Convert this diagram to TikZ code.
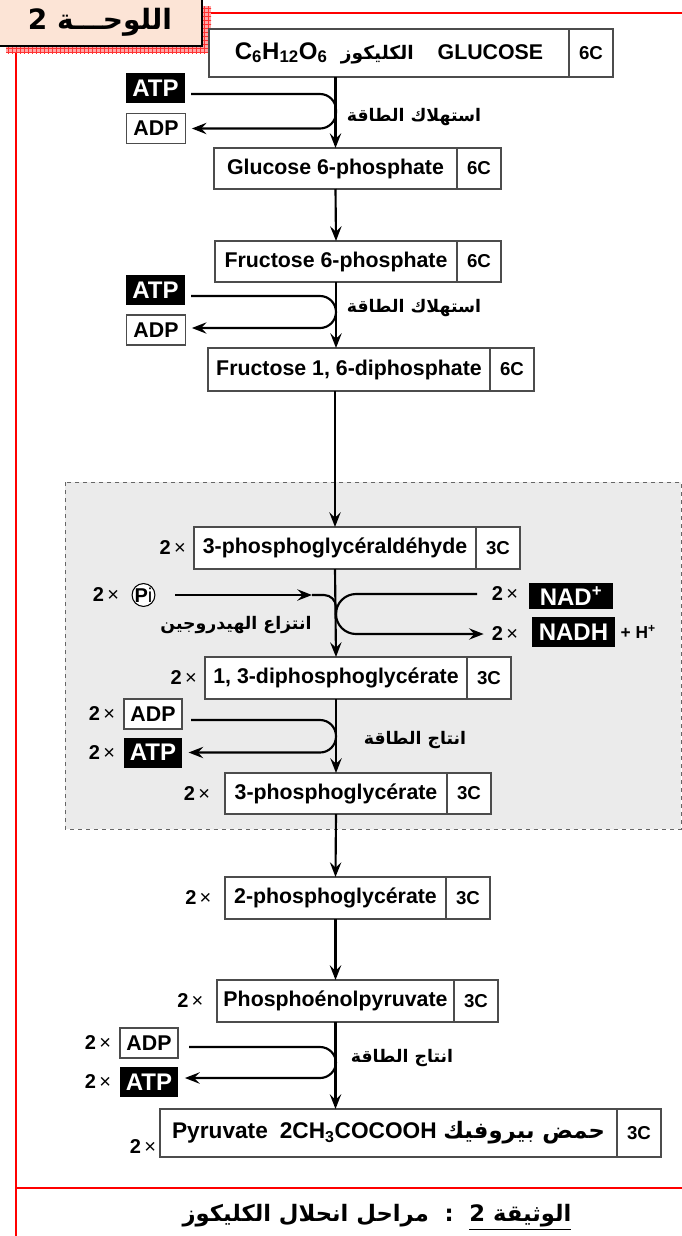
\documentclass[tikz,border=0pt]{standalone}
\usepackage{fontspec}
\setmainfont{Liberation Sans}
\newfontfamily\arabicfont[Script=Arabic]{DejaVu Sans}
\TeXXeTstate=1
\usepackage{xcolor}
\usetikzlibrary{arrows.meta, positioning, patterns}
\definecolor{peach}{HTML}{FCE4D6}
\newcommand{\arab}[1]{{\arabicfont\beginR #1\endR}}

\begin{document}
\begin{tikzpicture}[x=0.75pt, y=-0.75pt]
        % Styles
        \tikzset{
          stage/.style={draw=black!70, line width=0.8pt, fill=white, outer sep=0pt,
            inner sep=2pt, font=\bfseries\fontsize{16}{18}\selectfont},
          carbon/.style={stage, anchor=west, minimum width=33pt,
            font=\bfseries\fontsize{14}{16}\selectfont},
          atpbox/.style={fill=black, text=white, inner sep=0pt, minimum width=44pt,
            minimum height=22.5pt, font=\bfseries\fontsize{18}{20}\selectfont},
          adpbox/.style={draw=black!70, line width=0.8pt, fill=white, inner sep=0pt,
            minimum width=44pt, minimum height=22.5pt, font=\bfseries\fontsize{16}{18}\selectfont},
          mult/.style={inner sep=0pt, font=\bfseries\fontsize{15}{17}\selectfont},
          energy/.style={inner sep=0pt, font=\bfseries\fontsize{13}{15}\selectfont},
          flow/.style={line width=1.6pt, -{Stealth[length=11pt,width=8.5pt,inset=4pt]}},
          sideflow/.style={flow, rounded corners=12pt}
        }
        \useasboundingbox (0,0) rectangle (682,1236);

        % Frame
        \fill[red!35] (6,6) rectangle (211,53);
        \fill[pattern=grid, pattern color=red!80] (6,6) rectangle (211,53);
        \node (title) [draw=black, line width=1pt, fill=peach, minimum width=153pt,
          minimum height=36pt, font=\bfseries\fontsize{21}{24}\selectfont] at (100,22)
          {\arab{اللوحـــة 2}};
        \draw[red, line width=1.5pt] (16,53) -- (16,1236);
        \draw[red, line width=1.5pt] (211,13) -- (682,13);
        \draw[red, line width=1.5pt] (16,1188) -- (682,1188);
        \fill[black!8] (65,482) rectangle (681,829);
        \draw[dashed, black!60, line width=0.6pt] (65,482) rectangle (681,829);
        \coordinate (spine) at (336,0);

        % Nodes
        \node (glu) [stage, minimum width=270pt, minimum height=36pt] at (389,53)
          {{\fontsize{18}{20}\selectfont C\textsubscript{6}H\textsubscript{12}O\textsubscript{6}}\hspace{10pt}{\fontsize{14}{16}\selectfont\arab{الكليكوز}}\hspace{18pt}GLUCOSE};
        \node (gluc) [carbon, minimum height=36pt] at (glu.east) {6C};
        \node (g6p) [stage, minimum width=182.25pt, minimum height=30.75pt] at (335.5,168.5)
          {Glucose 6-phosphate};
        \node (g6pc) [carbon, minimum height=30.75pt] at (g6p.east) {6C};
        \node (f6p) [stage, minimum width=181.5pt, minimum height=30.75pt] at (336,261.5)
          {Fructose 6-phosphate};
        \node (f6pc) [carbon, minimum height=30.75pt] at (f6p.east) {6C};
        \node (f16) [stage, minimum width=211.5pt, minimum height=32.25pt] at (349,369.5)
          {Fructose 1, 6-diphosphate};
        \node (f16c) [carbon, minimum height=32.25pt] at (f16.east) {6C};
        \node (gap) [stage, minimum width=211.5pt, minimum height=31.5pt] at (335,548)
          {3-phosphoglycéraldéhyde};
        \node (gapc) [carbon, minimum height=31.5pt] at (gap.east) {3C};
        \node (dpg) [stage, minimum width=196.5pt, minimum height=31.5pt] at (336,678)
          {1, 3-diphosphoglycérate};
        \node (dpgc) [carbon, minimum height=31.5pt] at (dpg.east) {3C};
        \node (pgt) [stage, minimum width=166.5pt, minimum height=30.75pt] at (336,793.5)
          {3-phosphoglycérate};
        \node (pgtc) [carbon, minimum height=30.75pt] at (pgt.east) {3C};
        \node (pgs) [stage, minimum width=165.75pt, minimum height=31.5pt] at (335.5,898)
          {2-phosphoglycérate};
        \node (pgsc) [carbon, minimum height=31.5pt] at (pgs.east) {3C};
        \node (pep) [stage, minimum width=177.75pt, minimum height=31.5pt] at (335.5,1001)
          {Phosphoénolpyruvate};
        \node (pepc) [carbon, minimum height=31.5pt] at (pep.east) {3C};
        \node (pyr) [stage, minimum width=342.75pt, minimum height=36pt,
          font=\bfseries\fontsize{17}{19}\selectfont] at (388.5,1133)
          {Pyruvate\hspace{9pt}2CH\textsubscript{3}COCOOH\hspace{5pt}\arab{حمض بيروفيك}};
        \node (pyrc) [carbon, minimum height=36pt] at (pyr.east) {3C};

        % Multipliers
        \node (gapn) [mult, left=6pt of gap] {2\,{\mdseries ×}};
        \node (dpgn) [mult, left=6pt of dpg] {2\,{\mdseries ×}};
        \node (pgtn) [mult, left=11pt of pgt] {2\,{\mdseries ×}};
        \node (pgsn) [mult, left=10pt of pgs] {2\,{\mdseries ×}};
        \node (pepn) [mult, left=10pt of pep] {2\,{\mdseries ×}};
        \node (pyrn) [mult] at (143,1147) {2\,{\mdseries ×}};

        % Side molecules
        \node (atpa) [atpbox] at (155.5,88) {ATP};
        \node (adpa) [adpbox] at (156,128.5) {ADP};
        \node (atpb) [atpbox] at (155.5,290) {ATP};
        \node (adpb) [adpbox] at (156,330) {ADP};
        \node (pin) [mult] at (106,595) {2\,{\mdseries ×}};
        \node (pi) [draw, circle, line width=0.8pt, fill=white, minimum size=16.5pt,
          inner sep=0pt, font=\bfseries\fontsize{15}{17}\selectfont] at (143.5,595) {P{\mdseries i}};
        \node (nadn) [mult] at (505,594) {2\,{\mdseries ×}};
        \node (nad) [atpbox, minimum width=63pt, minimum height=19.5pt] at (571,596) {NAD\textsuperscript{+}};
        \node (nadhn) [mult] at (505,634) {2\,{\mdseries ×}};
        \node (nadh) [atpbox, minimum width=62pt] at (573.5,632) {NADH};
        \node (hplus) [mult, anchor=west, font=\bfseries\fontsize{13}{15}\selectfont, right=4pt of nadh]
          {+ H\textsuperscript{+}};
        \node (adpc) [adpbox, minimum width=43.5pt] at (153,714) {ADP};
        \node (atpc) [atpbox] at (153,752.5) {ATP};
        \node (adpcn) [mult] at (102,714) {2\,{\mdseries ×}};
        \node (atpcn) [mult] at (102,752.5) {2\,{\mdseries ×}};
        \node (adpd) [adpbox, minimum width=43.5pt] at (149,1043) {ADP};
        \node (atpd) [atpbox, minimum width=43.5pt] at (149,1082) {ATP};
        \node (adpdn) [mult] at (98,1043) {2\,{\mdseries ×}};
        \node (atpdn) [mult] at (98,1082) {2\,{\mdseries ×}};

        % Step labels
        \node (usea) [energy] at (414,117) {\arab{استهلاك الطاقة}};
        \node (useb) [energy] at (414,308) {\arab{استهلاك الطاقة}};
        \node (oxid) [energy] at (236,625) {\arab{انتزاع الهيدروجين}};
        \node (gaina) [energy] at (415,740) {\arab{انتاج الطاقة}};
        \node (gainb) [energy] at (402,1058) {\arab{انتاج الطاقة}};

        % Arrows
        \draw[flow] (glu.south -| g6p.north) -- (g6p.north);
        \draw[flow] (g6p.south) -- (f6p.north);
        \draw[flow] (f6p.south) -- (f6p.south |- f16.north);
        \draw[flow] (f16.south -| gap.north) -- (gap.north);
        \draw[flow] (gap.south) -- (dpg.north);
        \draw[flow] (dpg.south) -- (pgt.north);
        \draw[flow] (pgt.south) -- (pgs.north);
        \draw[flow] (pgs.south) -- (pep.north);
        \draw[flow] (pep.south) -- (pep.south |- pyr.north);

        \coordinate (ina) at ([xshift=4.5pt,yshift=-4.5pt]atpa.east);
        \coordinate (outa) at ([xshift=4.5pt]adpa.east);
        \draw[sideflow] (ina) -- (ina -| spine) -- (outa -| spine) -- (outa);
        \coordinate (inb) at ([xshift=4.5pt,yshift=-4.5pt]atpb.east);
        \coordinate (outb) at ([xshift=4.5pt,yshift=1.5pt]adpb.east);
        \draw[sideflow] (inb) -- (inb -| spine) -- (outb -| spine) -- (outb);
        \coordinate (inc) at ([xshift=6.5pt,yshift=-4.5pt]adpc.east);
        \coordinate (outc) at ([xshift=4.5pt]atpc.east);
        \draw[sideflow] (inc) -- (inc -| spine) -- (outc -| spine) -- (outc);
        \coordinate (ind) at ([xshift=8pt,yshift=-3pt]adpd.east);
        \coordinate (outd) at ([xshift=5pt,yshift=3pt]atpd.east);
        \draw[sideflow] (ind) -- (ind -| spine) -- (outd -| spine) -- (outd);

        \coordinate (pimid) at (312,595);
        \draw[flow] ([xshift=15pt]pi.east) -- (pimid);
        \draw[line width=1.6pt, rounded corners=9pt] (pimid) -- (pimid -| spine) -- ++(0,20);
        \coordinate (nadin) at ([xshift=-11pt]nadn.west);
        \coordinate (nadout) at ([xshift=-6pt]nadhn.west);
        \draw[sideflow, rounded corners=15pt] (nadin) -- (nadin -| spine) -- (nadout -| spine) -- (nadout);

        % Caption
        \node (caption) [font=\bfseries\fontsize{17}{20}\selectfont] at (377,1217)
          {\arabicfont\beginR\underline{\beginR الوثيقة 2\endR}\ \ :\ \ مراحل انحلال الكليكوز\endR};
\end{tikzpicture}
\end{document}
